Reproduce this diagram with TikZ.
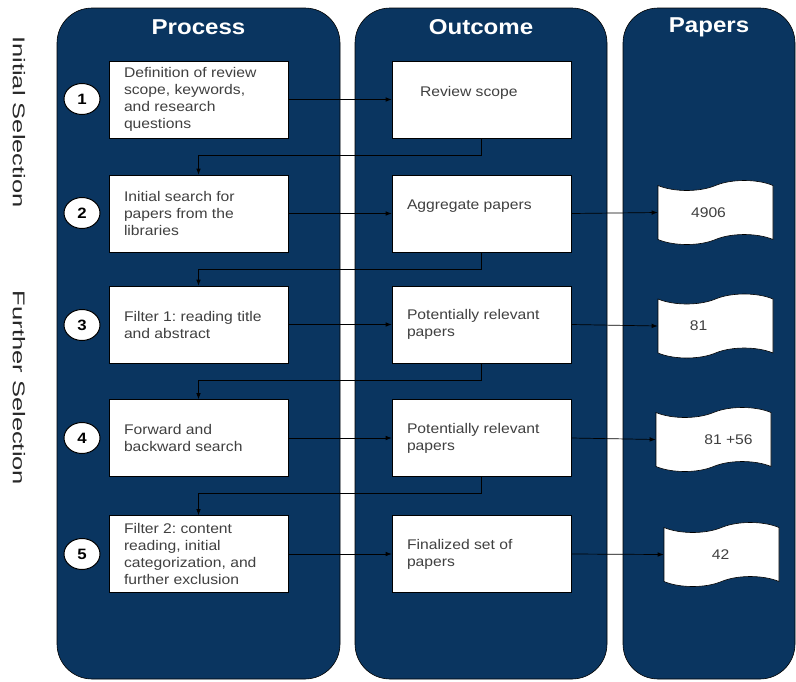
\documentclass[tikz,border=0pt]{standalone}
\usepackage{fontspec}
\setmainfont{Liberation Sans}[FakeStretch=1.12]
\newfontfamily\sidefont{Liberation Sans}[FakeStretch=1.5]
\usetikzlibrary{shapes.geometric,shapes.symbols,arrows.meta}
\definecolor{lanenavy}{RGB}{10,53,96}
\definecolor{boxtext}{RGB}{64,64,64}
\definecolor{sidetext}{RGB}{40,40,40}
\frenchspacing
\begin{document}
\begin{tikzpicture}[x=1pt,y=-1pt]
\tikzstyle{every node}+=[inner sep=0pt]
\tikzstyle{lane}=[draw=black, fill=lanenavy, rounded corners=35pt, line width=0.6pt]
\tikzstyle{lanehead}=[text=white, font=\fontsize{21.5}{24}\selectfont\bfseries]
\tikzstyle{sidelabel}=[rotate=-90, text=sidetext, font=\sidefont\fontsize{17}{20}\selectfont]
\tikzstyle{stepbox}=[draw=black, fill=white, line width=0.6pt, minimum width=179pt, minimum height=77pt, inner xsep=15pt, text width=149pt, align=flush left, text=boxtext, font=\fontsize{14}{17}\selectfont]
\tikzstyle{numcirc}=[ellipse, draw=black, fill=white, line width=1pt, minimum width=36pt, minimum height=31pt, font=\fontsize{15}{15}\selectfont\bfseries]
\tikzstyle{paperslip}=[tape, draw=black, fill=white, line width=0.6pt, minimum width=115pt, minimum height=64pt, tape bend top=in and out, tape bend bottom=in and out, tape bend height=10pt]
\tikzstyle{papertext}=[text=boxtext, font=\fontsize{14}{17}\selectfont]
\tikzstyle{flow}=[draw=black, line width=0.7pt, -{Latex[length=6pt,width=4.5pt]}]
\useasboundingbox (0,0) rectangle (796,681);
% lanes
\draw [lane] (57,8) rectangle (340,679);
\draw [lane] (355,8) rectangle (607,679);
\draw [lane] (623,8) rectangle (795,679);
\node [lanehead] (hproc) at (198.5,27) {Process};
\node [lanehead] (hout) at (481,27) {Outcome};
\node [lanehead] (hpap) at (709,27) {Papers};
\node [sidelabel] (sinit) at (19,122) {Initial Selection};
\node [sidelabel] (sfur) at (19,388) {Further Selection};
% process column
\node [stepbox] (p1) at (198.5,99.5) {Definition of review scope, keywords, and research questions};
\node [stepbox] (p2) at (198.5,213.5) {Initial search for papers from the libraries};
\node [stepbox] (p3) at (198.5,324.5) {Filter 1: reading title and abstract};
\node [stepbox] (p4) at (198.5,438) {Forward and backward search};
\node [stepbox] (p5) at (198.5,554) {Filter 2: content reading, initial categorization, and further exclusion};
\node [numcirc] (c1) at (82,99) {1};
\node [numcirc] (c2) at (82,213) {2};
\node [numcirc] (c3) at (82,325) {3};
\node [numcirc] (c4) at (82,438) {4};
\node [numcirc] (c5) at (82,554) {5};
% outcome column
\node [stepbox] (o1) at (481.5,99.5) {\hspace*{13pt}Review scope\\~};
\node [stepbox] (o2) at (481.5,213.5) {Aggregate papers\\~};
\node [stepbox] (o3) at (481.5,324.5) {Potentially relevant papers};
\node [stepbox] (o4) at (481.5,438) {Potentially relevant papers};
\node [stepbox] (o5) at (481.5,554) {Finalized set of papers};
% papers column
\node [paperslip] (s2) at (715.5,212.5) {};
\node [paperslip] (s3) at (715.5,326) {};
\node [paperslip] (s4) at (713.5,439.5) {};
\node [paperslip] (s5) at (721.5,554.5) {};
\node [papertext] (t2) at ([xshift=-7pt]s2.center) {4906};
\node [papertext] (t3) at ([xshift=-17pt]s3.center) {81};
\node [papertext] (t4) at ([xshift=15pt]s4.center) {81 +56};
\node [papertext] (t5) at ([xshift=-1pt]s5.center) {42};
% connectors
\draw [flow] (p1.east) -- (o1.west);
\draw [flow] (p2.east) -- (o2.west);
\draw [flow] (p3.east) -- (o3.west);
\draw [flow] (p4.east) -- (o4.west);
\draw [flow] (p5.east) -- (o5.west);
\draw [flow] (o1.south) -- ++(0,17) -| (p2.north);
\draw [flow] (o2.south) -- ++(0,17) -| (p3.north);
\draw [flow] (o3.south) -- ++(0,17) -| (p4.north);
\draw [flow] (o4.south) -- ++(0,17) -| (p5.north);
\draw [flow] (o2.east) -- (s2.west);
\draw [flow] (o3.east) -- (s3.west);
\draw [flow] (o4.east) -- (s4.west);
\draw [flow] (o5.east) -- (s5.west);
\end{tikzpicture}
\end{document}
